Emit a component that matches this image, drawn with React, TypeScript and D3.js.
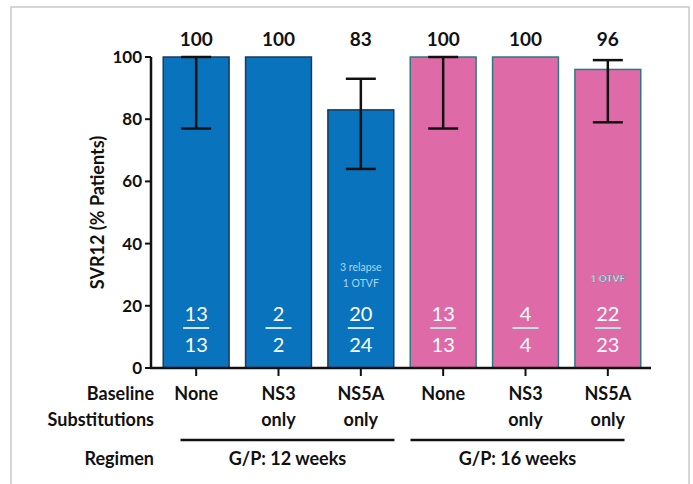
import React from 'react'
import * as d3 from 'd3'

const categories = ['None', 'NS3 only', 'NS5A only', 'None', 'NS3 only', 'NS5A only']
const groupOf = [0, 0, 0, 1, 1, 1]
const groups = ['G/P: 12 weeks', 'G/P: 16 weeks']
const svr = [100, 100, 83, 100, 100, 96]
const ciLow = [77, null, 64, 77, null, 79]
const ciHigh = [100, null, 93, 100, null, 99]
const responders = [13, 2, 20, 13, 4, 22]
const patients = [13, 2, 24, 13, 4, 23]
const notes = [[], [], ['3 relapse', '1 OTVF'], [], [], ['1 OTVF']]
const yTicks = [0, 20, 40, 60, 80, 100]

const W = 693
const H = 484
const font = 'Lato, "Open Sans", sans-serif'

const fills = ['#0a73bd', '#df6aa8']
const strokes = ['#1d3b55', '#2c7a80']
const lineCols = ['#cfe6f4', '#bfe3e3']

export default function App() {
  const x = d3.scaleBand<number>()
    .domain(categories.map((d, i) => i))
    .range([155, 649])
    .paddingInner(0.2)
    .paddingOuter(0.1)
  const y = d3.scaleLinear().domain([0, 100]).range([368, 57])
  const bw = x.bandwidth()

  return (
    <svg width={W} height={H} style={{ position: 'absolute', left: 0, top: 0, fontFamily: font }}>
      <rect x={0} y={0} width={W} height={H} fill="#fff" />
      <rect x={11} y={7} width={678} height={490} fill="none" stroke="#c9c9c9" strokeWidth={1.5} />

      {/* bars */}
      {svr.map((v, i) => {
        const g = groupOf[i]
        const cx = x(i)! + bw / 2
        // notes sit a little higher in the 12-week group
        const noteBase = g === 0 ? y(0) - 81 : y(0) - 86
        return (
          <g key={i}>
            <rect x={x(i)} y={y(v)} width={bw} height={y(0) - y(v)}
              fill={fills[g]} stroke={strokes[g]} strokeWidth={1.5} />
            <text x={cx} y={y(100) - 11} textAnchor="middle" fontSize={19} fontWeight="bold" fill="#111">{v}</text>
            {ciLow[i] != null && (
              <g stroke="#111" strokeWidth={2.5}>
                <line x1={cx} x2={cx} y1={y(ciHigh[i]!)} y2={y(ciLow[i]!)} />
                <line x1={cx - 15} x2={cx + 15} y1={y(ciHigh[i]!)} y2={y(ciHigh[i]!)} />
                <line x1={cx - 15} x2={cx + 15} y1={y(ciLow[i]!)} y2={y(ciLow[i]!)} />
              </g>
            )}
            <text x={cx} y={y(0) - 47} textAnchor="middle" fontSize={20} fill="#fff">{responders[i]}</text>
            <line x1={cx - 13} x2={cx + 13} y1={y(0) - 40} y2={y(0) - 40} stroke={lineCols[g]} strokeWidth={2} />
            <text x={cx} y={y(0) - 16} textAnchor="middle" fontSize={20} fill="#fff">{patients[i]}</text>
            {notes[i].map((n, k) => (
              <text key={k} x={cx} y={noteBase - (notes[i].length - 1 - k) * 16}
                textAnchor="middle" fontSize={g === 0 ? 10.5 : 10}
                fontWeight={g === 0 ? 'normal' : 'bold'}
                fill={g === 0 ? '#a9d6f2' : '#f4ffff'}
                stroke={g === 0 ? 'none' : '#2c8a8a'} strokeWidth={0.4}>{n}</text>
            ))}
          </g>
        )
      })}

      {/* y axis */}
      <line x1={151} x2={151} y1={y(100)} y2={y(0) + 1} stroke="#111" strokeWidth={2.5} />
      {yTicks.map(t => (
        <g key={t}>
          <line x1={145} x2={151} y1={y(t)} y2={y(t)} stroke="#111" strokeWidth={2} />
          <text x={142} y={y(t)} dy="0.35em" textAnchor="end" fontSize={17} fontWeight="bold" fill="#111">{t}</text>
        </g>
      ))}
      <text transform={`translate(104,${(y(0) + y(100)) / 2}) rotate(-90)`} textAnchor="middle"
        fontSize={18} fontWeight="bold" fill="#111">SVR12 (% Patients)</text>

      {/* x axis */}
      <line x1={150} x2={651} y1={y(0)} y2={y(0)} stroke="#111" strokeWidth={2.5} />
      {categories.map((c, i) => {
        const cx = x(i)! + bw / 2
        const parts = c.split(' ')
        return (
          <g key={i}>
            <line x1={cx} x2={cx} y1={y(0)} y2={y(0) + 8} stroke="#111" strokeWidth={2} />
            {parts.map((p, k) => (
              <text key={k} x={cx} y={394 + k * 26} dy="0.35em" textAnchor="middle" fontSize={18} fontWeight="bold" fill="#111">{p}</text>
            ))}
          </g>
        )
      })}
      <g fontSize={18} fontWeight="bold" fill="#111" textAnchor="end">
        <text x={154} y={394} dy="0.35em">Baseline</text>
        <text x={154} y={420} dy="0.35em">Substitutions</text>
        <text x={154} y={459} dy="0.35em">Regimen</text>
      </g>
      {groups.map((gname, g) => {
        const idx = groupOf.map((d, i) => (d === g ? i : -1)).filter(i => i >= 0)
        const left = x(idx[0])!
        const right = x(idx[idx.length - 1])! + bw
        const mid = (left + right) / 2 + (g === 0 ? 9 : -8)
        return (
          <g key={g}>
            <line x1={mid - 107} x2={mid + 107} y1={440} y2={440} stroke="#111" strokeWidth={2.5} />
            <text x={mid} y={459} dy="0.35em" textAnchor="middle" fontSize={18} fontWeight="bold" fill="#111">{gname}</text>
          </g>
        )
      })}
    </svg>
  )
}
